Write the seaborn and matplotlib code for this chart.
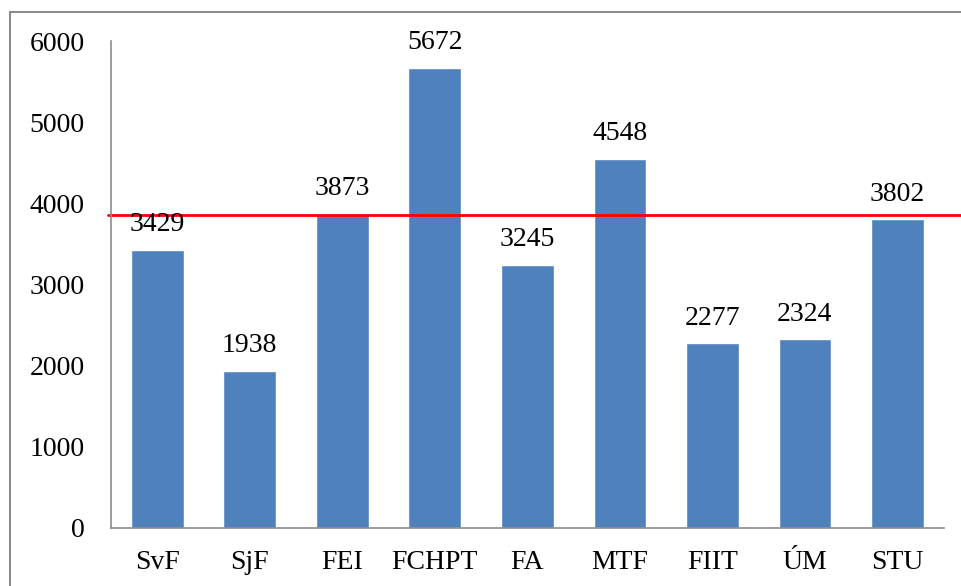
import matplotlib
matplotlib.use("Agg")
import matplotlib.pyplot as plt
import matplotlib.patches as patches
import seaborn as sns
import pandas as pd

# data
faculties = ["SvF", "SjF", "FEI", "FCHPT", "FA", "MTF", "FIIT", "ÚM", "STU"]
values = [3429, 1938, 3873, 5672, 3245, 4548, 2277, 2324, 3802]
ref_value = 3860

df = pd.DataFrame({"faculty": faculties, "value": values})

sns.set_style("white")
plt.rcParams["font.family"] = ["Liberation Serif", "DejaVu Serif"]
plt.rcParams["text.color"] = "black"
plt.rcParams["xtick.color"] = "black"
plt.rcParams["ytick.color"] = "black"

fig = plt.figure(figsize=(9.61, 5.86), dpi=100)
ax = fig.add_axes([0.1155, 0.099, 0.8665, 0.831])

sns.barplot(data=df, x="faculty", y="value", color="#4F81BD",
            saturation=1, width=0.57, ax=ax)

ax.bar_label(ax.containers[0], fontsize=20, padding=9, color="black")

# red reference line, runs past the plot area to the image edge
ax.axhline(ref_value, xmin=-0.004, xmax=1.1, color="#FF0000", lw=2, clip_on=False)

ax.set_ylim(0, 6000)
ax.set_yticks(range(0, 6001, 1000))
ax.set_xlim(-0.5, 8.5)
ax.set_xlabel("")
ax.set_ylabel("")
ax.tick_params(axis="y", length=0, pad=19, labelsize=20, labelcolor="black")
ax.tick_params(axis="x", length=0, pad=16, labelsize=20, labelcolor="black")

sns.despine(ax=ax)
for s in ["left", "bottom"]:
    ax.spines[s].set_color("#8C8C8C")
    ax.spines[s].set_linewidth(1.2)

# outer chart border (continues off the right and bottom of the picture)
border = patches.Rectangle((10 / 961, -0.1), 1.2, 1 - 12 / 586 + 0.1,
                           transform=fig.transFigure, fill=False,
                           edgecolor="#8C8C8C", lw=1.5)
fig.patches.append(border)

fig.savefig("out.png", dpi=100)
